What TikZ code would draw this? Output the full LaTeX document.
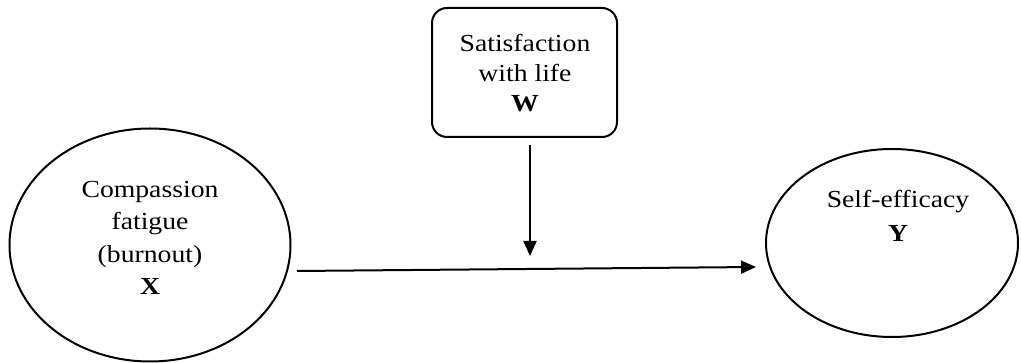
\documentclass[tikz,border=0pt]{standalone}
\usepackage{fontspec}
\setmainfont[FakeStretch=1.13]{Liberation Serif}
\usetikzlibrary{arrows.meta,shapes.geometric}
\begin{document}
\begin{tikzpicture}[x=1pt,y=-1pt,
  shape line/.style={draw=black,line width=2pt},
  oval/.style={shape line,ellipse,inner sep=0pt},
  modbox/.style={shape line,rectangle,rounded corners=15pt,inner sep=0pt},
  txt/.style={align=center,anchor=base,inner sep=0pt},
  arr/.style={line width=2pt,-{Triangle[length=15pt,width=13pt]}}]
\useasboundingbox (0,0) rectangle (1021,363);
\node[oval,minimum width=281pt,minimum height=233pt] (X) at (150,245) {};
\node[oval,minimum width=252pt,minimum height=188pt] (Y) at (892,243) {};
\node[modbox,minimum width=185pt,minimum height=129pt] (W) at (524.5,72.5) {};
\node[txt,font=\fontsize{24.5}{32.5}\selectfont] (xt) at (150,295) {Compassion\\fatigue\\(burnout)\\\textbf{X}};
\node[txt,font=\fontsize{24.5}{34}\selectfont] (yt) at (898,242) {Self-efficacy\\\textbf{Y}};
\node[txt,font=\fontsize{24.5}{30}\selectfont] (wt) at (525,112) {Satisfaction\\with life\\\textbf{W}};
\coordinate (hs) at (297,271);
\coordinate (he) at (756,267);
\coordinate (vm) at (530,256);
\draw[arr] (hs) -- (he);
\draw[arr] ([shift={(5.5,7)}]W.south) -- (vm);
\end{tikzpicture}
\end{document}
